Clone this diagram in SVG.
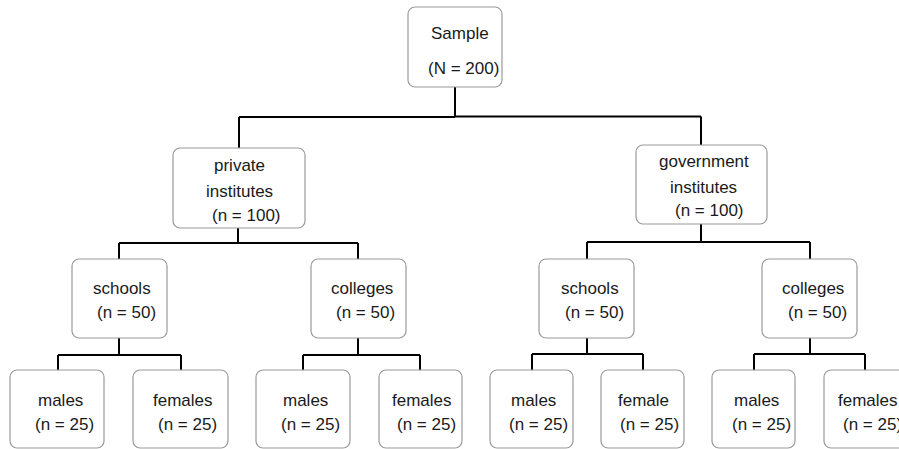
<svg xmlns="http://www.w3.org/2000/svg" width="899" height="449" viewBox="0 0 899 449">
<style>
  .box { fill: #ffffff; stroke: #9a9a9a; stroke-width: 1.2; }
  .lbl { font-family: "Liberation Sans", Arial, sans-serif; font-size: 17px; fill: #1a1a1a; }
  .conn { fill: none; stroke: #000000; stroke-width: 2; }
</style>
<rect width="899" height="449" fill="#ffffff"/>

<g id="connectors" class="conn">
  <path d="M455,87 V117 M239,117 H455 M455,116.5 H701 M239,117 V148 M701,116.5 V145"/>
  <path d="M238,228 V243 M119,243 H358 M119,243 V259 M358,243 V259"/>
  <path d="M701,224 V242 M587,242 H810 M587,242 V259 M810,242 V259"/>
  <path d="M119,338 V355 M58,355 H181 M58,355 V370 M181,355 V370"/>
  <path d="M358,338 V355 M303,355 H420 M303,355 V370 M420,355 V370"/>
  <path d="M587,338 V354 M532,354 H643 M532,354 V370 M643,354 V370"/>
  <path d="M810,338 V354 M754,354 H865 M754,354 V370 M865,354 V370"/>
</g>

<g id="sample">
  <rect class="box" x="408" y="7" width="94" height="80" rx="7"/>
  <text class="lbl" x="431" y="39">Sample</text>
  <text class="lbl" x="428" y="74">(N = 200)</text>
</g>

<g id="private">
  <rect class="box" x="173" y="148" width="132" height="80" rx="7"/>
  <text class="lbl" x="214" y="171">private</text>
  <text class="lbl" x="206" y="197">institutes</text>
  <text class="lbl" x="212" y="221">(n = 100)</text>
</g>

<g id="government">
  <rect class="box" x="636" y="145" width="131" height="79" rx="7"/>
  <text class="lbl" x="659" y="167">government</text>
  <text class="lbl" x="670" y="193">institutes</text>
  <text class="lbl" x="675" y="216">(n = 100)</text>
</g>

<g id="schools-private">
  <rect class="box" x="72" y="259" width="95" height="79" rx="7"/>
  <text class="lbl" x="93" y="294">schools</text>
  <text class="lbl" x="97" y="318">(n = 50)</text>
</g>

<g id="colleges-private">
  <rect class="box" x="311" y="259" width="95" height="79" rx="7"/>
  <text class="lbl" x="331" y="294">colleges</text>
  <text class="lbl" x="336" y="318">(n = 50)</text>
</g>

<g id="schools-government">
  <rect class="box" x="539" y="259" width="95" height="79" rx="7"/>
  <text class="lbl" x="561" y="294">schools</text>
  <text class="lbl" x="565" y="318">(n = 50)</text>
</g>

<g id="colleges-government">
  <rect class="box" x="762" y="259" width="95" height="79" rx="7"/>
  <text class="lbl" x="782" y="294">colleges</text>
  <text class="lbl" x="788" y="318">(n = 50)</text>
</g>

<g id="males-ps">
  <rect class="box" x="10" y="370" width="94" height="78" rx="7"/>
  <text class="lbl" x="38" y="406">males</text>
  <text class="lbl" x="35" y="430">(n = 25)</text>
</g>

<g id="females-ps">
  <rect class="box" x="133" y="370" width="95" height="78" rx="7"/>
  <text class="lbl" x="153" y="406">females</text>
  <text class="lbl" x="158" y="430">(n = 25)</text>
</g>

<g id="males-pc">
  <rect class="box" x="256" y="370" width="94" height="78" rx="7"/>
  <text class="lbl" x="283" y="406">males</text>
  <text class="lbl" x="281" y="430">(n = 25)</text>
</g>

<g id="females-pc">
  <rect class="box" x="379" y="370" width="83" height="78" rx="7"/>
  <text class="lbl" x="392" y="406">females</text>
  <text class="lbl" x="397" y="430">(n = 25)</text>
</g>

<g id="males-gs">
  <rect class="box" x="490" y="370" width="83" height="78" rx="7"/>
  <text class="lbl" x="511" y="406">males</text>
  <text class="lbl" x="509" y="430">(n = 25)</text>
</g>

<g id="female-gs">
  <rect class="box" x="601" y="370" width="83" height="78" rx="7"/>
  <text class="lbl" x="618" y="406">female</text>
  <text class="lbl" x="620" y="430">(n = 25)</text>
</g>

<g id="males-gc">
  <rect class="box" x="712" y="370" width="83" height="78" rx="7"/>
  <text class="lbl" x="734" y="406">males</text>
  <text class="lbl" x="732" y="430">(n = 25)</text>
</g>

<g id="females-gc">
  <rect class="box" x="824" y="370" width="84" height="78" rx="7"/>
  <text class="lbl" x="838" y="406">females</text>
  <text class="lbl" x="843" y="430">(n = 25)</text>
</g>
</svg>
